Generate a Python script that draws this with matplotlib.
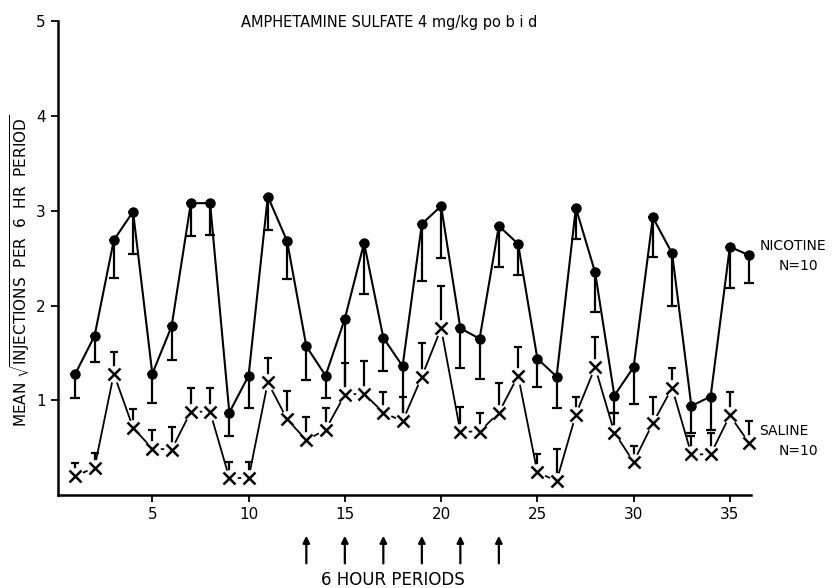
import numpy as np
import matplotlib.pyplot as plt

# 6 hour periods
periods = np.arange(1, 37)

# nicotine group: means and lower ends of the error bars
nicotine = [1.28, 1.68, 2.69, 2.99, 1.28, 1.78, 3.08, 3.08, 0.87, 1.26, 3.15, 2.68,
            1.57, 1.26, 1.86, 2.66, 1.66, 1.36, 2.86, 3.05, 1.76, 1.65, 2.84, 2.65,
            1.44, 1.25, 3.03, 2.35, 1.05, 1.35, 2.93, 2.55, 0.94, 1.04, 2.62, 2.53]
nicotine_low = [1.02, 1.40, 2.29, 2.54, 0.97, 1.43, 2.73, 2.74, 0.62, 0.92, 2.80, 2.28,
                1.21, 1.02, 1.10, 2.12, 1.31, 0.82, 2.26, 2.50, 1.34, 1.22, 2.41, 2.32,
                1.14, 0.92, 2.70, 1.93, 0.87, 0.96, 2.51, 2.00, 0.66, 0.69, 2.18, 2.24]

# saline group: means and upper ends of the error bars
saline = [0.20, 0.29, 1.28, 0.71, 0.49, 0.48, 0.88, 0.88, 0.18, 0.18, 1.19, 0.80,
          0.58, 0.69, 1.06, 1.07, 0.87, 0.78, 1.25, 1.76, 0.67, 0.67, 0.87, 1.26,
          0.24, 0.15, 0.85, 1.35, 0.66, 0.35, 0.76, 1.13, 0.43, 0.43, 0.84, 0.55]
saline_high = [0.34, 0.44, 1.51, 0.91, 0.69, 0.72, 1.13, 1.13, 0.35, 0.35, 1.45, 1.10,
               0.82, 0.92, 1.39, 1.41, 1.09, 1.04, 1.60, 2.21, 0.93, 0.87, 1.18, 1.56,
               0.43, 0.49, 1.03, 1.67, 0.87, 0.52, 1.03, 1.34, 0.62, 0.65, 1.09, 0.78]

# drug injection times
arrow_periods = [13, 15, 17, 19, 21, 23]

nicotine = np.array(nicotine)
saline = np.array(saline)
nic_err = [nicotine - np.array(nicotine_low), np.zeros(len(nicotine))]
sal_err = [np.zeros(len(saline)), np.array(saline_high) - saline]

fig = plt.figure(figsize=(8.32, 5.88), dpi=100)
ax = fig.add_axes([0.0697, 0.158, 0.8330, 0.806])

# error bars first, then lines and markers
ax.errorbar(periods, nicotine, yerr=nic_err, fmt='none', ecolor='black',
            elinewidth=1.6, capsize=3.5, capthick=1.6, clip_on=False)
ax.errorbar(periods, saline, yerr=sal_err, fmt='none', ecolor='black',
            elinewidth=1.6, capsize=3, capthick=1.6, clip_on=False)

ax.plot(periods, nicotine, color='black', lw=1.5, marker='o', ms=6.5,
        clip_on=False, zorder=4)

# saline line broken around the x marks
ax.plot(periods, saline, color='black', lw=1.3, clip_on=False, zorder=3)
ax.plot(periods, saline, ls='none', marker='o', ms=12, mfc='white', mec='none',
        clip_on=False, zorder=3.5)
ax.plot(periods, saline, ls='none', marker='x', ms=8, mew=1.8, color='black',
        clip_on=False, zorder=4)

ax.set_xlim(0.1, 36.1)
ax.set_ylim(0, 5)
ax.set_xticks([5, 10, 15, 20, 25, 30, 35])
ax.set_yticks([1, 2, 3, 4, 5])
ax.spines['top'].set_visible(False)
ax.spines['right'].set_visible(False)
ax.spines['left'].set_linewidth(1.8)
ax.spines['bottom'].set_linewidth(1.8)
ax.tick_params(axis='both', direction='out', length=5, width=1.3, labelsize=11)
ax.tick_params(axis='y', pad=4)

fig.text(0.024, 0.54, r'MEAN $\sqrt{\mathrm{INJECTIONS\ \ PER\ \ 6\ \ HR\ \ PERIOD}}$',
         rotation=90, ha='center', va='center', fontsize=11)

fig.text(0.468, 0.962, 'AMPHETAMINE SULFATE 4 mg/kg po b i d', ha='center',
         va='center', fontsize=10.5)

# arrows below the axis mark the injection periods
for p in arrow_periods:
    ax.annotate('', xy=(p, -0.080), xytext=(p, -0.150),
                xycoords=('data', 'axes fraction'),
                textcoords=('data', 'axes fraction'),
                arrowprops=dict(arrowstyle='-|>', color='black', lw=1.6,
                                mutation_scale=10))

ax.text(17.5, -0.18, '6 HOUR PERIODS', transform=ax.get_xaxis_transform(),
        ha='center', va='center', fontsize=12)

ax.text(1.012, 2.63, 'NICOTINE', transform=ax.get_yaxis_transform(),
        ha='left', va='center', fontsize=10)
ax.text(1.04, 2.42, 'N=10', transform=ax.get_yaxis_transform(),
        ha='left', va='center', fontsize=10)
ax.text(1.012, 0.68, 'SALINE', transform=ax.get_yaxis_transform(),
        ha='left', va='center', fontsize=10)
ax.text(1.04, 0.47, 'N=10', transform=ax.get_yaxis_transform(),
        ha='left', va='center', fontsize=10)

fig.savefig('out.png', dpi=100)
